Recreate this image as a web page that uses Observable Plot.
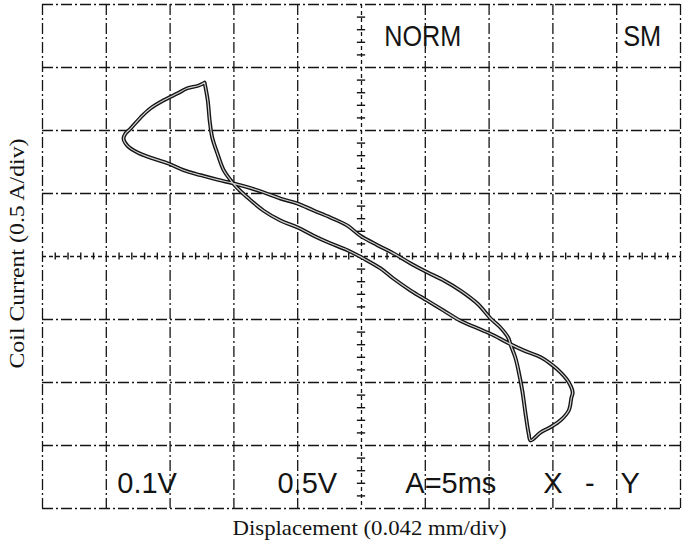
<!DOCTYPE html>
<html>
<head>
<meta charset="utf-8">
<script src="https://cdn.jsdelivr.net/npm/d3@7"></script>
<script src="https://cdn.jsdelivr.net/npm/@observablehq/plot@0.6"></script>
<style>
  html, body { margin: 0; padding: 0; background: #ffffff; }
  #chart svg { display: block; }
</style>
</head>
<body>
<div id="chart"></div>
<script>
// ---- Data (screen divisions: x 0.042 mm/div, y 0.5 A/div) ----
const xLabel = "Displacement (0.042 mm/div)";
const yLabel = "Coil Current (0.5 A/div)";

const xDivisions = [-5, -4, -3, -2, -1, 0, 1, 2, 3, 4, 5];
const yDivisions = [-4, -3, -2, -1, 0, 1, 2, 3, 4];

const loopX = [
  -2.46, -2.41, -2.38, -2.34, -2.26, -2.16, -2.05, -1.94, -1.79, -1.54,
  -1.27, -1.00, -0.75, -0.49, -0.22, 0.03, 0.30, 0.50, 0.77, 1.03,
  1.29, 1.55, 1.82, 2.07, 2.29, 2.54, 2.81, 2.96, 3.12, 3.25,
  3.31, 3.29, 3.25, 3.12, 2.96, 2.81, 2.65, 2.62, 2.57, 2.52,
  2.46, 2.41, 2.34, 2.30, 2.18, 2.02, 1.82, 1.55, 1.29, 1.03,
  0.77, 0.50, 0.25, -0.02, -0.22, -0.49, -0.75, -1.00, -1.27, -1.54,
  -1.79, -2.01, -2.26, -2.52, -2.79, -3.04, -3.31, -3.51, -3.67, -3.73,
  -3.70, -3.62, -3.46, -3.31, -3.10, -2.88, -2.73, -2.56, -2.46
];
const loopY = [
  2.76, 2.48, 2.16, 1.89, 1.64, 1.37, 1.21, 1.08, 0.94, 0.73,
  0.57, 0.46, 0.33, 0.21, 0.10, -0.03, -0.19, -0.35, -0.54, -0.70,
  -0.86, -1.02, -1.14, -1.25, -1.37, -1.49, -1.60, -1.70, -1.84, -2.00,
  -2.16, -2.24, -2.44, -2.60, -2.71, -2.79, -2.92, -2.81, -2.49, -2.13,
  -1.81, -1.60, -1.41, -1.29, -1.13, -0.98, -0.75, -0.54, -0.38, -0.25,
  -0.11, 0.05, 0.18, 0.33, 0.49, 0.62, 0.73, 0.84, 0.92, 1.02,
  1.10, 1.16, 1.22, 1.29, 1.37, 1.48, 1.57, 1.65, 1.76, 1.87,
  1.95, 2.03, 2.21, 2.35, 2.48, 2.59, 2.67, 2.71, 2.76
];

// On-screen readouts of the oscilloscope
const screenTexts = ["NORM", "SM", "0.1V", "0.5V", "A=5ms", "X", "-", "Y"];
const screenX = [0.96, 4.40, -3.36, -0.85, 1.40, 3.00, 3.58, 4.21];
const screenY = [3.49, 3.49, -3.60, -3.60, -3.60, -3.60, -3.60, -3.60];

// ---- Derived tables ----
const loop = loopX.map((x, i) => ({x, y: loopY[i]}));
const screen = screenTexts.map((t, i) => ({t, x: screenX[i], y: screenY[i]}));
const minorX = d3.range(-25, 26).filter(k => k % 5 !== 0).map(k => k / 5);
const minorY = d3.range(-20, 21).filter(k => k % 5 !== 0).map(k => k / 5);

const ink = "#141414";

const chart = Plot.plot({
  width: 682,
  height: 549,
  marginLeft: 42,
  marginRight: 2,
  marginTop: 4,
  marginBottom: 41,
  x: {domain: [-5, 5], axis: null},
  y: {domain: [-4, 4], axis: null},
  marks: [
    Plot.ruleX(xDivisions.filter(d => d !== 0), {stroke: ink, strokeWidth: 1.3, strokeDasharray: "11,3,2,3"}),
    Plot.ruleY(yDivisions.filter(d => d !== 0), {stroke: ink, strokeWidth: 1.3, strokeDasharray: "11,3,2,3"}),
    Plot.ruleX([0], {stroke: ink, strokeWidth: 1.3, strokeDasharray: "4,3"}),
    Plot.ruleY([0], {stroke: ink, strokeWidth: 1.3, strokeDasharray: "4,3"}),
    Plot.ruleY(minorY, {y: d => d, x1: -0.065, x2: 0.065, stroke: ink, strokeWidth: 1.4}),
    Plot.ruleX(minorX, {x: d => d, y1: -0.055, y2: 0.055, stroke: ink, strokeWidth: 1.4}),
    Plot.line(loop, {x: "x", y: "y", stroke: ink, strokeWidth: 3.9, curve: "catmull-rom", strokeLinejoin: "round"}),
    Plot.line(loop, {x: "x", y: "y", stroke: "#ffffff", strokeWidth: 1.2, strokeOpacity: 0.8, curve: "catmull-rom"}),
    Plot.text(screen, {x: "x", y: "y", text: "t", fontSize: 29, fontFamily: "Liberation Sans, Arial, sans-serif", fill: ink}),
    Plot.text([xLabel], {frameAnchor: "bottom", dx: 8, dy: 26, fontSize: 21, fontFamily: "Liberation Serif, Times New Roman, serif", fill: ink}),
    Plot.text([yLabel], {frameAnchor: "left", textAnchor: "start", dx: -25, dy: 112, rotate: -90, fontSize: 21, fontFamily: "Liberation Serif, Times New Roman, serif", fill: ink})
  ]
});

document.getElementById("chart").appendChild(chart);

// Match the glyph widths of the scope font / scanned labels
const fitWidths = {"NORM": 77, "SM": 38, [xLabel]: 274, [yLabel]: 230};
chart.querySelectorAll("text").forEach(t => {
  const w = fitWidths[t.textContent];
  if (w) {
    t.setAttribute("textLength", w);
    t.setAttribute("lengthAdjust", "spacingAndGlyphs");
  }
});
</script>
</body>
</html>
